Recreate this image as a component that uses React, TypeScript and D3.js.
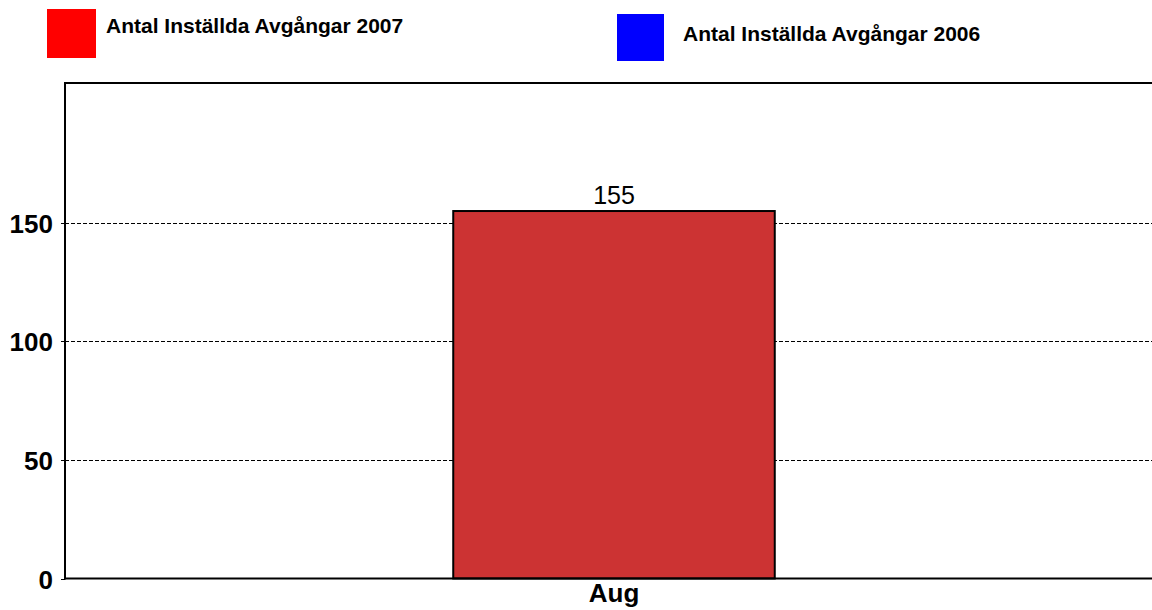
import React from "react";
import * as d3 from "d3";

const categories: string[] = ["Aug"];
const values2007: number[] = [155];
const values2006: number[] = [];
const yTicks: number[] = [0, 50, 100, 150];
const legendLabels: string[] = ["Antal Inställda Avgångar 2007", "Antal Inställda Avgångar 2006"];
const legendColors: string[] = ["#FF0000", "#0000FF"];

export default function App() {
  const W = 1152;
  const H = 610;
  const left = 65;
  const top = 83;
  const bottom = 578.5;
  const right = 1163;

  const y = d3.scaleLinear().domain([0, 209]).range([bottom, top]);
  const x = d3.scaleBand<string>().domain(categories).range([left, right]).padding(0.547);
  const font = "'Liberation Sans', Arial, sans-serif";
  const crisp = (v: number) => Math.round(v) + 0.5;

  return (
    <svg width={W} height={H} style={{ position: "absolute", left: 0, top: 0, background: "#fff" }} fontFamily={font}>
      <rect x={0} y={0} width={W} height={H} fill="#fff" />
      {/* legend */}
      <rect x={47} y={9} width={49} height={49} fill={legendColors[0]} />
      <text x={106} y={33} fontSize={21} fontWeight="bold" fill="#000">{legendLabels[0]}</text>
      <rect x={617} y={14} width={47} height={47} fill={legendColors[1]} />
      <text x={683} y={41} fontSize={21} fontWeight="bold" fill="#000">{legendLabels[1]}</text>

      {/* gridlines */}
      {yTicks.filter((t) => t > 0).map((t) => (
        <line key={t} x1={left} x2={W} y1={crisp(y(t))} y2={crisp(y(t))} stroke="#000" strokeWidth={1} strokeDasharray="4,2" />
      ))}

      {/* top border */}
      <line x1={left - 1} x2={W} y1={top} y2={top} stroke="#000" strokeWidth={2} />

      {/* bars */}
      {categories.map((c, i) => {
        const v = values2007[i];
        const bx = x(c) as number;
        const bw = x.bandwidth();
        return (
          <g key={c}>
            <rect x={bx} y={y(v)} width={bw} height={y(0) - y(v)} fill="#CC3333" stroke="#000" strokeWidth={2} />
            <text x={bx + bw / 2} y={y(v) - 7} textAnchor="middle" fontSize={25} fill="#000">{v}</text>
            <text x={bx + bw / 2} y={602} textAnchor="middle" fontSize={26} fontWeight="bold" fill="#000">{c}</text>
          </g>
        );
      })}
      {values2006.length > 0 ? null : null}

      {/* axes */}
      <line x1={left} x2={left} y1={top - 1} y2={bottom + 1} stroke="#000" strokeWidth={2} />
      <line x1={left - 1} x2={W} y1={bottom} y2={bottom} stroke="#000" strokeWidth={2} />
      {yTicks.map((t) => (
        <g key={t}>
          <line x1={left - 4} x2={left} y1={crisp(y(t))} y2={crisp(y(t))} stroke="#000" strokeWidth={1} />
          <text x={53} y={y(t) + 10} textAnchor="end" fontSize={26} fontWeight="bold" fill="#000">{t}</text>
        </g>
      ))}
    </svg>
  );
}
